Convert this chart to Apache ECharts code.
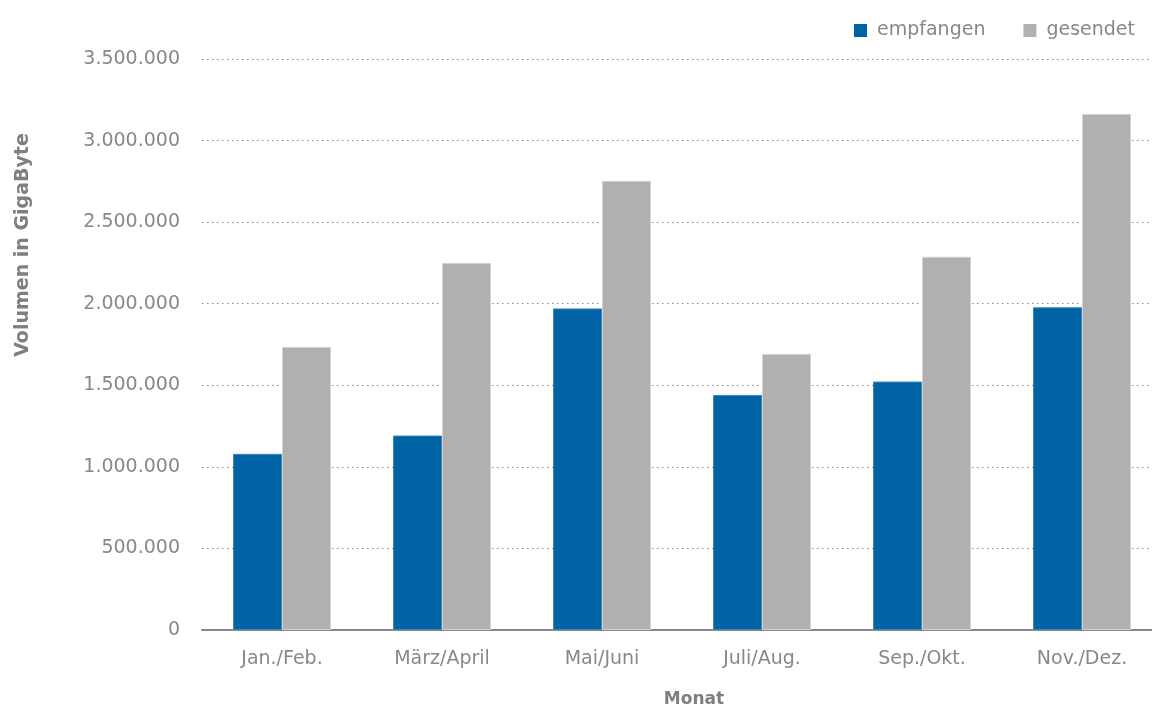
<!DOCTYPE html>
<html>
<head>
<meta charset="utf-8">
<script src="https://cdn.jsdelivr.net/npm/echarts@6/dist/echarts.min.js"></script>
<style>
  html, body { margin: 0; padding: 0; background: #fff; overflow: hidden; }
  #chart { width: 1162px; height: 716px; }
</style>
</head>
<body>
<div id="chart"></div>
<script>
  var months = ['Jan./Feb.', 'März/April', 'Mai/Juni', 'Juli/Aug.', 'Sep./Okt.', 'Nov./Dez.'];
  var empfangen = [1080000, 1192000, 1971000, 1441000, 1523000, 1978000];
  var gesendet = [1735000, 2249000, 2753000, 1692000, 2288000, 3163000];

  var font = '"DejaVu Sans"';
  var textGrey = '#888888';

  var chart = echarts.init(document.getElementById('chart'));

  // 1500000 -> 1.500.000
  function fmt(v) {
    return String(v).replace(/\B(?=(\d{3})+(?!\d))/g, '.');
  }

  chart.setOption({
    animation: false,
    textStyle: { fontFamily: font },
    legend: {
      top: 16,
      right: 22,
      itemWidth: 13,
      itemHeight: 13,
      itemGap: 38,
      icon: 'rect',
      itemStyle: { borderWidth: 0 },
      textStyle: { fontSize: 19, color: textGrey, fontFamily: font, padding: [0, 0, 0, 5] },
      data: ['empfangen', 'gesendet']
    },
    grid: { left: 202, top: 59, width: 960, height: 571 },
    xAxis: {
      type: 'category',
      data: months,
      axisTick: { show: false },
      axisLine: { lineStyle: { color: '#888', width: 2 } },
      axisLabel: { fontSize: 19, color: textGrey, margin: 20, fontFamily: font }
    },
    yAxis: {
      type: 'value',
      min: 0,
      max: 3500000,
      interval: 500000,
      axisLine: { show: false },
      axisTick: { show: false },
      axisLabel: {
        fontSize: 19, color: textGrey, margin: 22, fontFamily: font,
        formatter: fmt
      },
      splitLine: { lineStyle: { type: [1.5, 3.5], color: '#8a8a8a', width: 1.2 } }
    },
    graphic: [
      {
        type: 'text',
        x: 23, y: 245,
        rotation: Math.PI / 2,
        style: {
          text: 'Volumen in GigaByte',
          font: 'bold 19px ' + font,
          fill: '#7f7f7f',
          align: 'center',
          verticalAlign: 'middle'
        }
      },
      {
        type: 'text',
        x: 694, y: 700,
        style: {
          text: 'Monat',
          font: 'bold 17px ' + font,
          fill: '#7f7f7f',
          align: 'center',
          verticalAlign: 'middle'
        }
      }
    ],
    series: [
      {
        name: 'empfangen',
        type: 'bar',
        data: empfangen,
        barWidth: 49,
        barGap: '0%',
        itemStyle: { color: '#0063a6', borderColor: '#3d86bd', borderWidth: 1 }
      },
      {
        name: 'gesendet',
        type: 'bar',
        data: gesendet,
        barWidth: 49,
        itemStyle: { color: '#b1b0ae', borderColor: '#d2d2d0', borderWidth: 1 }
      }
    ]
  });
</script>
</body>
</html>
